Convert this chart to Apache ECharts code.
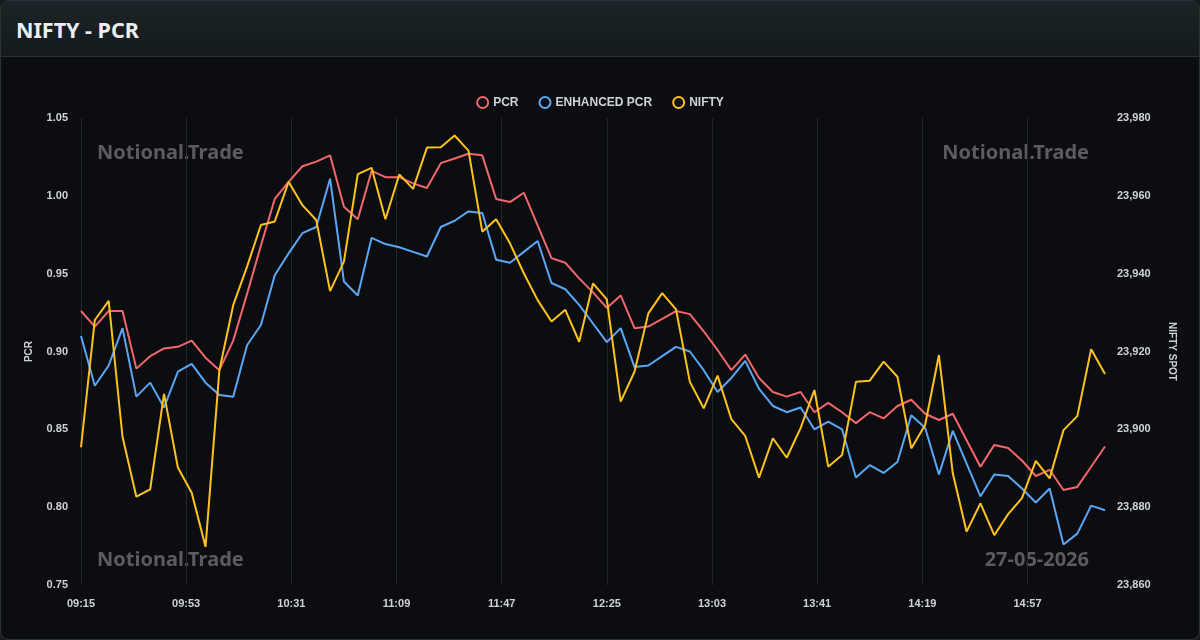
<!DOCTYPE html>
<html>
<head>
<meta charset="utf-8">
<title>NIFTY - PCR</title>
<script src="https://cdn.jsdelivr.net/npm/echarts@6/dist/echarts.min.js"></script>
<style>
    html, body { margin: 0; padding: 0; background: #15191c; }
    #card {
        position: absolute; left: 0; top: 0; width: 1198px; height: 638px;
        border: 1px solid #2b3338; border-radius: 8px; overflow: hidden;
        background: #0c0d10;
    }
    #head {
        position: absolute; left: 0; top: 0; right: 0; height: 55px;
        background: linear-gradient(180deg, #1c2529 0%, #141a1d 100%);
        border-bottom: 1px solid #283034;
    }
    #head span {
        position: absolute; left: 15px; top: 14px;
        font: bold 21.5px "Noto Sans", "Open Sans", sans-serif; color: #eceff1;
    }
    #chart { position: absolute; left: 0; top: 0; width: 1200px; height: 640px; }
</style>
</head>
<body>
<div id="card"><div id="head"><span>NIFTY - PCR</span></div></div>
<div id="chart"></div>
<script>
// one point every 5 minutes, starting 09:15
const startTime = '09:15'
const stepMin = 5
const sessionMin = 370

const seriesNames = ['PCR', 'ENHANCED PCR', 'NIFTY']
const seriesColors = ['#f2676c', '#5aa7f6', '#fcc31e']

const pcr = [
    0.926, 0.916, 0.926, 0.926, 0.889, 0.897, 0.902, 0.903, 0.907, 0.896,
    0.888, 0.907, 0.937, 0.968, 0.998, 1.009, 1.019, 1.022, 1.026, 0.993,
    0.985, 1.016, 1.012, 1.012, 1.008, 1.005, 1.021, 1.024, 1.027, 1.026,
    0.998, 0.996, 1.002, 0.981, 0.960, 0.957, 0.947, 0.938, 0.928, 0.936,
    0.915, 0.916, 0.921, 0.926, 0.924, 0.913, 0.901, 0.888, 0.898, 0.883,
    0.874, 0.871, 0.874, 0.861, 0.867, 0.861, 0.854, 0.861, 0.857, 0.865,
    0.869, 0.860, 0.856, 0.860, 0.843, 0.826, 0.840, 0.838, 0.830, 0.820,
    0.824, 0.811, 0.813, 0.826, 0.839
]
const enhancedPcr = [
    0.910, 0.878, 0.891, 0.915, 0.871, 0.880, 0.864, 0.887, 0.892, 0.880,
    0.872, 0.871, 0.904, 0.917, 0.949, 0.963, 0.976, 0.980, 1.011, 0.945,
    0.936, 0.973, 0.969, 0.967, 0.964, 0.961, 0.980, 0.984, 0.990, 0.989,
    0.959, 0.957, 0.964, 0.971, 0.944, 0.940, 0.930, 0.918, 0.906, 0.915,
    0.890, 0.891, 0.897, 0.903, 0.900, 0.888, 0.874, 0.883, 0.894, 0.876,
    0.865, 0.861, 0.864, 0.850, 0.855, 0.850, 0.819, 0.827, 0.822, 0.829,
    0.859, 0.851, 0.821, 0.849, 0.828, 0.807, 0.821, 0.820, 0.812, 0.803,
    0.812, 0.776, 0.783, 0.801, 0.798
]
const nifty = [
    23895.4, 23928.1, 23933.0, 23898.1, 23882.7, 23884.6, 23909.1, 23890.2, 23883.7, 23869.8,
    23915.2, 23931.9, 23941.8, 23952.5, 23953.4, 23963.6, 23957.6, 23953.8, 23935.5, 23943.1,
    23965.6, 23967.2, 23954.0, 23965.5, 23961.8, 23972.4, 23972.5, 23975.5, 23971.6, 23950.8,
    23954.0, 23947.8, 23940.1, 23933.2, 23927.7, 23930.7, 23922.5, 23937.5, 23933.4, 23907.1,
    23914.8, 23929.8, 23935.0, 23930.8, 23912.2, 23905.4, 23913.8, 23902.6, 23898.3, 23887.6,
    23897.7, 23892.7, 23900.3, 23910.1, 23890.4, 23893.4, 23912.2, 23912.5, 23917.4, 23913.5,
    23895.1, 23901.1, 23919.1, 23888.7, 23873.7, 23881.0, 23872.8, 23878.2, 23882.3, 23891.9,
    23887.4, 23899.8, 23903.4, 23920.6, 23914.2
]

const watermark = 'Notional.Trade'
const tradeDate = '27-05-2026'

function clock(offset){
    let [h, m] = startTime.split(':').map(Number)
    let t = h * 60 + m + offset
    let hh = String(Math.floor(t / 60)).padStart(2, '0')
    let mm = String(t % 60).padStart(2, '0')
    return hh + ':' + mm
}

// x axis: every minute of the session is a category
let minutes = []
for (let i = 0; i <= sessionMin; i++) minutes.push(clock(i))

function pairs(arr){
    return arr.map((v, i) => [clock(i * stepMin), v])
}

let font = '"Liberation Sans", Arial, sans-serif'
let wmStyle = {
    fontFamily: '"Noto Sans", "Open Sans", sans-serif',
    fontWeight: 'bold',
    fontSize: 20,
    fill: '#5b5c5e'
}

let myChart = echarts.init(document.querySelector('#chart'))
myChart.setOption({
    backgroundColor: 'transparent',
    animation: false,
    color: seriesColors,
    legend: {
        top: 91,
        left: 'center',
        icon: 'circle',
        itemWidth: 11,
        itemHeight: 11,
        itemGap: 20,
        data: seriesNames.map((n, i) => ({
            name: n,
            itemStyle: {color: '#0c0d10', borderColor: seriesColors[i], borderWidth: 2}
        })),
        textStyle: {color: '#d0d3d6', fontWeight: 'bold', fontSize: 12, fontFamily: font}
    },
    grid: {left: 81, right: 95, top: 118, bottom: 55},
    xAxis: {
        type: 'category',
        data: minutes,
        boundaryGap: false,
        axisLine: {show: false},
        axisTick: {show: false},
        axisLabel: {interval: 37, color: '#d0d3d6', fontSize: 11, fontFamily: font, fontWeight: 'bold', margin: 13},
        splitLine: {show: true, interval: 37, lineStyle: {color: '#24272b', width: 1}}
    },
    yAxis: [
        {
            type: 'value',
            name: 'PCR',
            nameLocation: 'middle',
            nameGap: 47,
            nameTextStyle: {color: '#d0d3d6', fontSize: 10, fontFamily: font, fontWeight: 'bold'},
            min: 0.75,
            max: 1.05,
            interval: 0.05,
            axisLine: {show: false},
            axisTick: {show: false},
            splitLine: {show: false},
            axisLabel: {
                color: '#d0d3d6', fontSize: 11, fontFamily: font, fontWeight: 'bold', margin: 13,
                formatter: v => v.toFixed(2)
            }
        },
        {
            type: 'value',
            name: 'NIFTY SPOT',
            nameLocation: 'middle',
            nameGap: 62,
            nameRotate: -90,
            nameTextStyle: {color: '#d0d3d6', fontSize: 10, fontFamily: font, fontWeight: 'bold'},
            min: 23860,
            max: 23980,
            interval: 20,
            axisLine: {show: false},
            axisTick: {show: false},
            splitLine: {show: false},
            axisLabel: {
                color: '#d0d3d6', fontSize: 11, fontFamily: font, fontWeight: 'bold', margin: 12,
                formatter: v => v.toLocaleString('en-US')
            }
        }
    ],
    graphic: [
        {type: 'text', left: 97, top: 143, z: -1, style: Object.assign({text: watermark}, wmStyle)},
        {type: 'text', right: 111, top: 143, z: -1, style: Object.assign({text: watermark}, wmStyle)},
        {type: 'text', left: 97, top: 550, z: -1, style: Object.assign({text: watermark}, wmStyle)},
        {type: 'text', right: 111, top: 550, z: -1, style: Object.assign({text: tradeDate}, wmStyle)}
    ],
    series: [
        {
            name: seriesNames[0], type: 'line', yAxisIndex: 0, showSymbol: false,
            lineStyle: {width: 2}, data: pairs(pcr)
        },
        {
            name: seriesNames[1], type: 'line', yAxisIndex: 0, showSymbol: false,
            lineStyle: {width: 2}, data: pairs(enhancedPcr)
        },
        {
            name: seriesNames[2], type: 'line', yAxisIndex: 1, showSymbol: false,
            lineStyle: {width: 2}, data: pairs(nifty)
        }
    ]
})
</script>
</body>
</html>
